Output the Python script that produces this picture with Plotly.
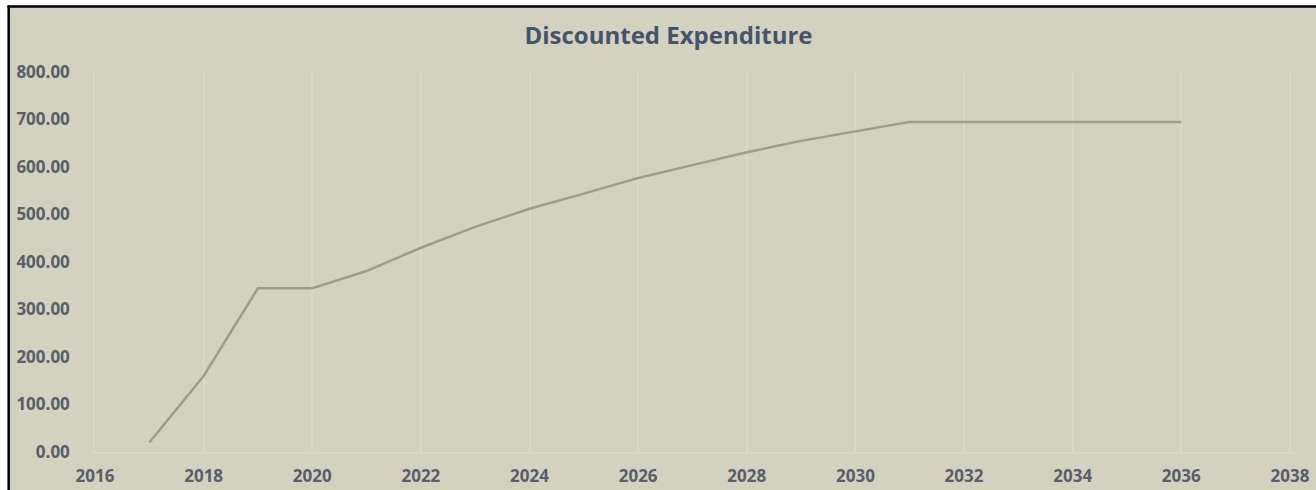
import plotly.graph_objects as go

# Discounted expenditure by year
years = [2017, 2018, 2019, 2020, 2021, 2022, 2023, 2024, 2025, 2026,
         2027, 2028, 2029, 2030, 2031, 2032, 2033, 2034, 2035, 2036]
expenditure = [20, 160, 345, 345, 381, 430, 474, 512, 544, 577,
               604, 631, 655, 675, 695, 695, 695, 695, 695, 695]

x_ticks = list(range(2016, 2039, 2))
y_ticks = [0, 100, 200, 300, 400, 500, 600, 700, 800]

BG = "#D3D2BF"
GRID = "#DAD9C8"
LINE = "#9D9C91"
TICK = "#595E68"
TITLE = "#44546A"
FONT = "Open Sans"

W, H = 1316, 490
L, R, T, B = 95, 19, 72, 38

fig = go.Figure(
    go.Scatter(
        x=years, y=expenditure, mode="lines",
        line=dict(color=LINE, width=2.5),
        hoverinfo="x+y",
    )
)

# frame: white outer strip with a black edge on the top and left
pw = W - L - R
ph = H - T - B
def px_x(p):
    return (p - L) / pw
def px_y(p):
    return (H - B - p) / ph

shapes = [
    dict(type="rect", xref="paper", yref="paper",
         x0=px_x(0), x1=px_x(W), y0=px_y(0), y1=px_y(5.5),
         fillcolor="white", line=dict(width=0), layer="below"),
    dict(type="rect", xref="paper", yref="paper",
         x0=px_x(0), x1=px_x(7.5), y0=px_y(0), y1=px_y(H),
         fillcolor="white", line=dict(width=0), layer="below"),
    dict(type="line", xref="paper", yref="paper",
         x0=px_x(7.5), x1=px_x(W + 2), y0=px_y(6.5), y1=px_y(6.5),
         line=dict(color="black", width=2.5), layer="below"),
    dict(type="line", xref="paper", yref="paper",
         x0=px_x(8.7), x1=px_x(8.7), y0=px_y(5.5), y1=px_y(H + 2),
         line=dict(color="black", width=2.5), layer="below"),
    # plain strip along the right edge
    dict(type="rect", xref="paper", yref="paper",
         x0=px_x(W - 4), x1=px_x(W + 4), y0=px_y(H + 2), y1=px_y(8),
         fillcolor=BG, line=dict(width=0), layer="above"),
]

fig.update_layout(
    width=W, height=H,
    margin=dict(l=L, r=R, t=T, b=B, pad=0, autoexpand=False),
    paper_bgcolor=BG, plot_bgcolor=BG,
    showlegend=False,
    shapes=shapes,
    title=dict(
        text="<b>Discounted Expenditure</b>",
        x=668.5 / W, xanchor="center", xref="container",
        y=1 - 36 / H, yanchor="middle", yref="container",
        font=dict(family=FONT, size=24, color=TITLE),
    ),
    font=dict(family=FONT),
)

fig.update_xaxes(
    range=[2016, 2038.13],
    tickvals=x_ticks, ticktext=[f"<b>{v}</b>" for v in x_ticks],
    tickfont=dict(family=FONT, size=17, color=TICK),
    showgrid=True, gridcolor=GRID, gridwidth=1.5,
    zeroline=False, showline=True, linecolor=GRID, linewidth=1.5,
    ticks="", ticklabelstandoff=8, automargin=False,
)
fig.update_yaxes(
    range=[0, 800],
    tickvals=y_ticks, ticktext=[f"<b>{v:.2f}</b>" for v in y_ticks],
    tickfont=dict(family=FONT, size=17, color=TICK),
    showgrid=False, zeroline=False,
    showline=True, linecolor=GRID, linewidth=1.5,
    ticks="", ticklabelstandoff=20, automargin=False,
)

fig.write_html("out.html")
